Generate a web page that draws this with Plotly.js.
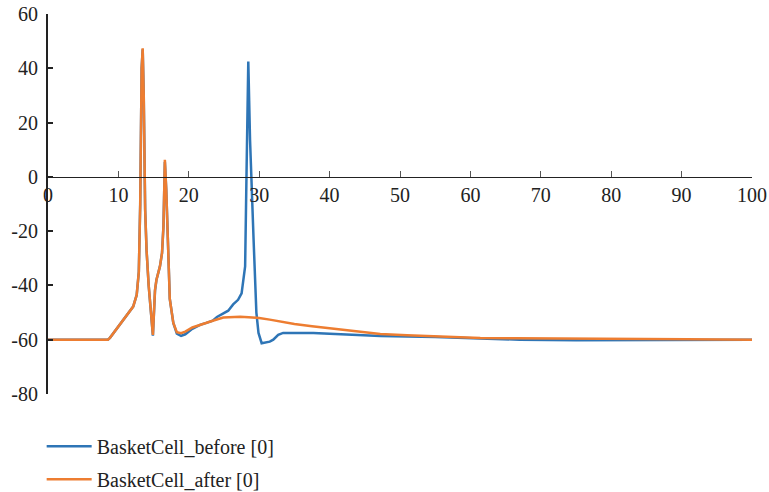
<!DOCTYPE html>
<html>
<head>
<meta charset="utf-8">
<script src="https://cdn.plot.ly/plotly-3.0.1.min.js"></script>
<style>html,body{margin:0;padding:0;background:#fff;}#chart{width:769px;height:492px;}</style>
</head>
<body>
<div id="chart"></div>
<script>
const seriesNames = ["BasketCell_before [0]", "BasketCell_after [0]"];
const timeBefore = [0, 8.5, 8.8, 10, 11, 12.1, 12.6, 12.9, 13.1, 13.3, 13.45, 13.6, 13.8, 14.0, 14.3, 14.6, 14.9, 15.2, 15.4, 15.9, 16.2, 16.4, 16.6, 16.8, 17.0, 17.3, 17.8, 18.3, 18.9, 19.5, 20.5, 21.6, 22.5, 23.4, 24.0, 24.8, 25.6, 26.3, 27.0, 27.5, 27.8, 28.0, 28.2, 28.45, 28.7, 29.0, 29.2, 29.6, 29.9, 30.35, 31.0, 31.5, 32.0, 32.7, 33.4, 35, 37.7, 40, 47.2, 55, 61.4, 67, 75, 85, 92, 100];
const vBefore = [-60, -60, -59.3, -55, -51.5, -47.8, -43.5, -35, -10, 40, 47, 30, -12, -27, -40, -50, -58.5, -42, -38, -33, -28, -18, 5.5, -5, -22, -45, -53.8, -57.8, -58.6, -58, -56, -54.5, -53.8, -53.0, -51.6, -50.4, -49.3, -47, -45.3, -42.9, -38, -33, 1.4, 42.5, 13.6, -5, -23, -50, -57.5, -61.3, -61, -60.7, -60, -58.2, -57.5, -57.4, -57.5, -57.8, -58.6, -59, -59.6, -60, -60.2, -60.2, -60, -60];
const timeAfter = [0, 8.5, 8.8, 10, 11, 12.1, 12.6, 12.9, 13.1, 13.3, 13.45, 13.6, 13.8, 14.0, 14.3, 14.6, 14.9, 15.2, 15.4, 15.9, 16.2, 16.4, 16.6, 16.8, 17.0, 17.3, 17.8, 18.3, 18.9, 19.5, 20.5, 21.6, 23.4, 24.9, 26.0, 27.3, 28.5, 30, 31.5, 33, 35, 37.5, 40, 43.5, 47.2, 51, 55.7, 61.4, 66.6, 75, 85, 90.7, 100];
const vAfter = [-60, -60, -59.3, -55, -51.5, -47.8, -43.5, -35, -10, 40, 47.4, 30, -12, -27, -40, -50, -58.2, -41.6, -38, -33, -28, -18.3, 6.3, -5, -20.6, -45, -53.8, -57.2, -57.6, -57, -55.5, -54.5, -53, -51.8, -51.6, -51.5, -51.7, -52, -52.6, -53.3, -54.2, -55, -55.7, -56.9, -57.9, -58.4, -58.8, -59.4, -59.5, -59.7, -59.8, -59.8, -60];
const xTicks = [0, 10, 20, 30, 40, 50, 60, 70, 80, 90, 100];
const yTicks = [-80, -60, -40, -20, 0, 20, 40, 60];

const tickFont = {family: "Liberation Serif", size: 20, color: "#222"};
const legendFont = {family: "Liberation Serif", size: 20, color: "#222"};
const traces = [
  {x: timeBefore, y: vBefore, name: seriesNames[0], legendgroup: "a", type: "scatter", mode: "lines",
   line: {color: "#2E75B6", width: 2.5}},
  {x: timeAfter, y: vAfter, name: seriesNames[1], legendgroup: "b", type: "scatter", mode: "lines",
   line: {color: "#ED7D31", width: 2.5}}
];
const layout = {
  width: 769, height: 492,
  margin: {l: 48, r: 17, t: 14, b: 98, autoexpand: false},
  paper_bgcolor: "#fff", plot_bgcolor: "#fff",
  font: tickFont,
  showlegend: true,
  legend: {orientation: "v", x: -0.009, xanchor: "left", y: -0.086, yanchor: "top",
           font: legendFont, itemwidth: 45, traceorder: "grouped", tracegroupgap: 4,
           bgcolor: "rgba(0,0,0,0)"},
  xaxis: {range: [0, 100], tickvals: xTicks, ticktext: xTicks.map(String),
          anchor: "free", position: 80 / 140, showgrid: false, zeroline: false,
          showline: true, linecolor: "#222", linewidth: 1.2,
          ticks: "inside", ticklen: 6, tickcolor: "#555", tickwidth: 1,
          tickfont: tickFont},
  yaxis: {range: [-80, 60], tickvals: yTicks, ticktext: yTicks.map(String),
          showgrid: false, zeroline: false, showline: true, linecolor: "#222",
          linewidth: 2, ticks: "inside", ticklen: 5, tickcolor: "#222", tickwidth: 2,
          tickfont: tickFont, ticklabelstandoff: 4}
};
Plotly.newPlot("chart", traces, layout, {displayModeBar: false, staticPlot: true});
</script>
</body>
</html>
